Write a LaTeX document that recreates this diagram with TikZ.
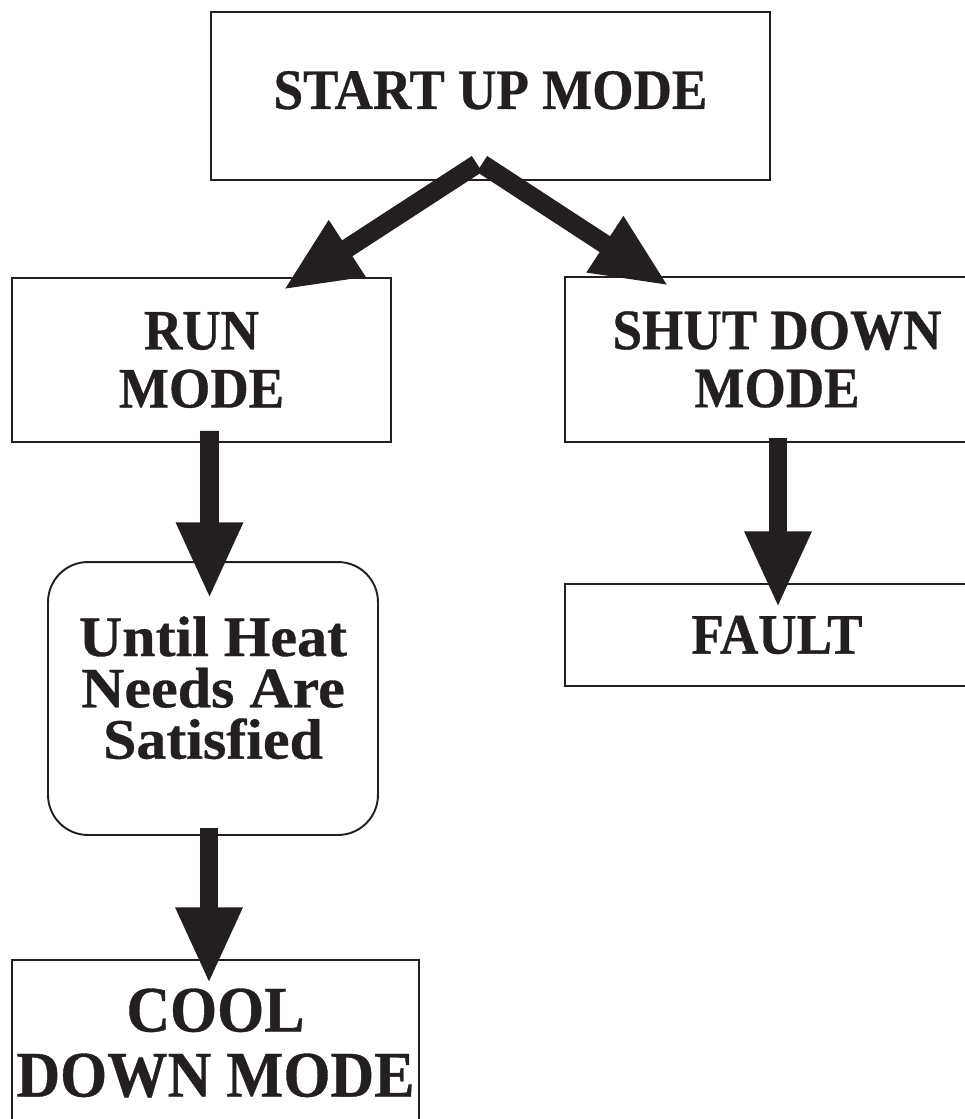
\documentclass[tikz,border=0pt]{standalone}
\usepackage{fontspec}
\usepackage{tikz}
\usepackage{xcolor}
\usetikzlibrary{arrows.meta, positioning, calc}
\newfontfamily\modefont{Liberation Serif}[FakeStretch=0.93, FakeBold=0.6]
\newfontfamily\widefont{Liberation Serif}[FakeStretch=1.05, FakeBold=0.6]
\definecolor{ink}{RGB}{35,31,32}

\begin{document}
\begin{tikzpicture}[x=0.02cm, y=-0.02cm,
  modebox/.style={draw=ink, line width=1.1pt, inner sep=0pt, align=center, text=ink,
    font=\modefont\bfseries\fontsize{32.5}{33}\selectfont},
  roundbox/.style={modebox, rounded corners=0.8cm},
  bigarrow/.style={ink, line width=10.8pt, -{Triangle[width=35pt, length=43.6pt]}}]
\useasboundingbox (0,0) rectangle (964,1119);

% Start up
\node[modebox, minimum width=11.18cm, minimum height=3.36cm, text depth=0.24cm] (start) at (490.5,96) {START UP MODE};

% Run and shut down
\node[modebox, minimum width=7.58cm, minimum height=3.28cm] (run) at (201.5,360) {RUN\\MODE};
\node[modebox, minimum width=8.48cm, minimum height=3.3cm] (shut) at (777,359.5) {SHUT DOWN\\MODE};

% Until heat needs are met
\node[roundbox, minimum width=6.6cm, minimum height=5.46cm, text depth=0.44cm,
  font=\widefont\bfseries\fontsize{32.5}{29.2}\selectfont] (until) at (213,698.5) {Until Heat\\Needs Are\\Satisfied};

% Fault
\node[modebox, minimum width=8.48cm, minimum height=2.04cm] (fault) at (777,635) {FAULT};

% Cool down
\node[modebox, minimum width=8.14cm, minimum height=3.32cm,
  font=\modefont\bfseries\fontsize{37}{37}\selectfont] (cool) at (215.5,1043) {COOL\\DOWN MODE};

% Arrows
\draw[bigarrow] ($(start.south)+(-13.5,-17)$) -- ($(run.north)+(81.5,13)$);
\draw[bigarrow] ($(start.south)+(-8.5,-17)$) -- ($(shut.north)+(-108,10)$);
\draw[bigarrow] ($(run.south)+(8,-12)$) -- ($(until.north)+(-3.5,38)$);
\draw[bigarrow] ($(until.south)+(-4,-8)$) -- ($(cool.north)+(-6.5,25)$);
\draw[bigarrow] ($(shut.south)+(1,-5)$) -- ($(fault.north)+(1,25)$);
\end{tikzpicture}
\end{document}
